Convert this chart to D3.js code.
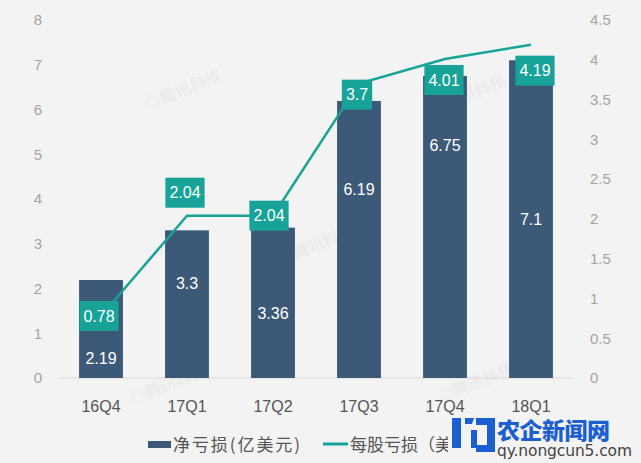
<!DOCTYPE html>
<html><head><meta charset="utf-8">
<script src="https://cdn.jsdelivr.net/npm/d3@7/dist/d3.min.js"></script>
<style>
html,body{margin:0;padding:0;background:#f3f3f3;}
svg{display:block;}
</style></head>
<body>
<svg id="c" width="641" height="463"></svg>
<script>
// ---- data ----
const categories = ["16Q4","17Q1","17Q2","17Q3","17Q4","18Q1"];
const netLoss = [2.19, 3.3, 3.36, 6.19, 6.75, 7.1];        // 净亏损(亿美元)
const epsLoss = [0.78, 2.04, 2.04, 3.7, 4.01, 4.19];       // 每股亏损（美元）
const leftTicks = [0,1,2,3,4,5,6,7,8];
const rightTicks = [0,0.5,1,1.5,2,2.5,3,3.5,4,4.5];
const legendNames = ["净亏损(亿美元)", "每股亏损（美元）"];

// ---- layout / style ----
const barLabelFrac = [0.2, 0.64, 0.43, 0.68, 0.77, 0.5];
const epsLabelDy = [0, -23, 0, 11, 21, 26];
const epsLabelDx = [-2, -2, -4, -2, -1, 4];
const barColor = "#3c5a78", teal = "#17a397", boxColor = "#18a398";
const latin = "'Liberation Sans', Arial, sans-serif";
const cjk = "'Noto Sans CJK SC', 'Liberation Sans', sans-serif";

const svg = d3.select("#c");
const x = d3.scaleBand().domain(categories).range([58, 574]).paddingInner(0.49).paddingOuter(0.245);
const yL = d3.scaleLinear().domain([0, 8]).range([378, 20]);
const yR = d3.scaleLinear().domain([0, 4.5]).range([378, 20]);

// faint background watermarks
const wm = [[185,95],[170,390],[318,250],[470,100],[478,388]];
svg.append("g").selectAll("text").data(wm).join("text")
  .attr("transform", d => `translate(${d[0]},${d[1]}) rotate(-22)`)
  .attr("text-anchor","middle").attr("font-family",cjk).attr("font-size",16).attr("font-weight","bold")
  .attr("fill","#ebebeb").text("◎腾讯科技");

// baseline
svg.append("line").attr("x1",58).attr("x2",574).attr("y1",yL(0)).attr("y2",yL(0))
  .attr("stroke","#d9d9d9").attr("stroke-width",1);

// left axis
const axL = d3.axisLeft(yL).tickValues(leftTicks).tickSize(0).tickPadding(0).tickFormat(d3.format("d"));
const gL = svg.append("g").attr("transform","translate(42,0)").call(axL);
gL.select(".domain").remove();
gL.selectAll("text").attr("font-family",latin).attr("font-size",15).attr("fill","#a3a3a3");

// right axis
const axR = d3.axisRight(yR).tickValues(rightTicks).tickSize(0).tickPadding(0).tickFormat(d => String(d));
const gR = svg.append("g").attr("transform","translate(590,0)").call(axR);
gR.select(".domain").remove();
gR.selectAll("text").attr("font-family",latin).attr("font-size",15).attr("fill","#a3a3a3");

// x axis
const axX = d3.axisBottom(x).tickSize(0).tickPadding(0);
const gX = svg.append("g").attr("transform","translate(0,401)").call(axX);
gX.select(".domain").remove();
gX.selectAll("text").attr("font-family",latin).attr("font-size",16).attr("fill","#555").attr("dy","0.71em");

// bars
svg.append("g").selectAll("rect").data(netLoss).join("rect")
  .attr("x",(d,i)=>x(categories[i])).attr("width",x.bandwidth())
  .attr("y",d=>yL(d)).attr("height",d=>yL(0)-yL(d)).attr("fill",barColor);

// bar labels
svg.append("g").selectAll("text").data(netLoss).join("text")
  .attr("x",(d,i)=>x(categories[i])+x.bandwidth()/2)
  .attr("y",(d,i)=>yL(0)-(yL(0)-yL(d))*barLabelFrac[i])
  .attr("dy","0.36em").attr("text-anchor","middle")
  .attr("font-family",latin).attr("font-size",16).attr("fill","#fff").text(d=>String(d));

// line
const cx = i => x(categories[i]) + x.bandwidth()/2;
svg.append("path").datum(epsLoss)
  .attr("d", d3.line().x((d,i)=>cx(i)).y(d=>yR(d)))
  .attr("fill","none").attr("stroke",teal).attr("stroke-width",2.5);

// line labels
const lg = svg.append("g");
epsLoss.forEach((d,i)=>{
  const g = lg.append("g").attr("transform",`translate(${cx(i)+epsLabelDx[i]},${yR(d)+epsLabelDy[i]})`);
  const r = g.append("rect").attr("fill",boxColor);
  const t = g.append("text").attr("text-anchor","middle").attr("dy","0.36em")
    .attr("font-family",latin).attr("font-size",16).attr("fill","#fff").text(String(d));
  const b = t.node().getBBox();
  r.attr("x",-b.width/2-4).attr("width",b.width+8).attr("y",-15).attr("height",30);
});

// legend
const leg = svg.append("g");
leg.append("rect").attr("x",148).attr("y",441).attr("width",23).attr("height",7).attr("fill",barColor);
leg.append("text").attr("x",173).attr("y",445).attr("dy","0.36em").attr("font-family",cjk).attr("font-size",17)
  .attr("fill","#555").attr("textLength",127).attr("lengthAdjust","spacing").text(legendNames[0]);
leg.append("line").attr("x1",323).attr("x2",348).attr("y1",444).attr("y2",444).attr("stroke",teal).attr("stroke-width",3);
leg.append("text").attr("x",350).attr("y",445).attr("dy","0.36em").attr("font-family",cjk).attr("font-size",17)
  .attr("fill","#555").text(legendNames[1]);

// site watermark (overlay)
const sw = svg.append("g");
sw.append("rect").attr("x",448).attr("y",416).attr("width",186).attr("height",44).attr("fill","#f3f3f3");
sw.append("path").attr("d","M452,418 h9 v30 h-9 z M465,418 h9 l-2,6 h-7 z M476,418 h19 v34 h-19 v-7 h11 v-20 h-11 z M471,430 h6 v18 h-6 z")
  .attr("fill","#1c5fd0");
sw.append("text").attr("x",497).attr("y",439).attr("font-family",cjk).attr("font-weight","900").attr("font-size",23)
  .attr("fill","#1c5fd0").attr("textLength",113).text("农企新闻网");
sw.append("text").attr("x",497).attr("y",456).attr("font-family","'DejaVu Sans', sans-serif").attr("font-size",15.5)
  .attr("fill","#444").attr("textLength",135).text("qy.nongcun5.com");
</script>
</body></html>
